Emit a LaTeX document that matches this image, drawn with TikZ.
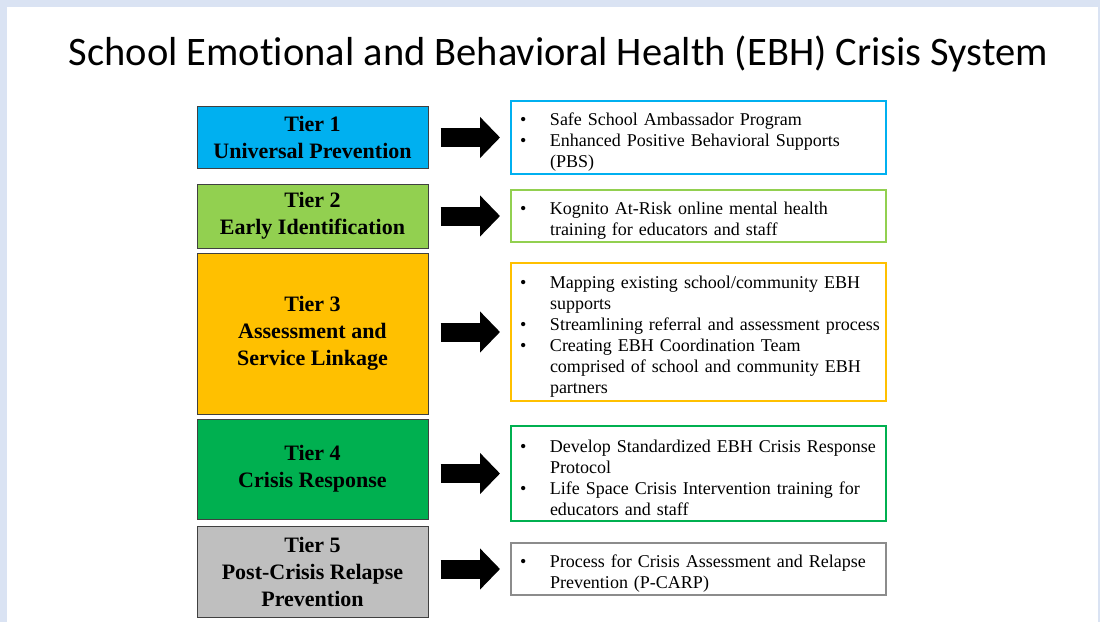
\documentclass[tikz,border=0pt]{standalone}
\usepackage{fontspec}
\setmainfont{Liberation Serif}
\newfontfamily\titlefont[Ligatures=NoCommon]{Carlito}
\usetikzlibrary{arrows.meta}

\definecolor{slideblue}{HTML}{DAE3F3}
\definecolor{tierblue}{HTML}{00B0F0}
\definecolor{tierlime}{HTML}{92D050}
\definecolor{tiergold}{HTML}{FFC000}
\definecolor{tiergreen}{HTML}{00B050}
\definecolor{tiergray}{HTML}{BFBFBF}
\definecolor{framegray}{HTML}{8C8C8C}
\newcommand\tierpoint[1]{\par\raggedright\rightskip=-8pt plus 1fil
  \hangindent=32pt\hangafter=1\noindent\makebox[32pt][l]{\hspace{2pt}\textbullet}#1\par}
\newcommand\wrapline{\hfil\break}

\begin{document}
\begin{tikzpicture}[x=1pt,y=-1pt,
  tier/.style={draw=black!75,line width=1pt,minimum width=231pt,align=center,
    font=\bfseries\fontsize{22}{27}\selectfont},
  plan/.style={draw,line width=2pt,minimum width=375pt,text width=361pt,
    inner xsep=7pt,font=\fontsize{18}{21}\selectfont},
  push/.style={-{Triangle[length=20pt,width=40pt]},line width=19pt,
    shorten <=12pt,shorten >=10pt}]

  \fill[slideblue] (0,0) rectangle (1100,622);
  \fill[white] (7,7) rectangle (1098,622);

  \node[anchor=base,font=\titlefont\fontsize{40.5}{48}\selectfont] (title) at (558.5,65)
    {School Emotional and Behavioral Health (EBH) Crisis System};

  \node[tier,fill=tierblue,minimum height=62pt] (t1) at (312.5,137) {Tier 1\\Universal Prevention};
  \node[tier,fill=tierlime,minimum height=64pt] (t2) at (312.5,216) {Tier 2\\Early Identification};
  \node[tier,fill=tiergold,minimum height=161pt] (t3) at (312.5,333.5) {Tier 3\\Assessment and\\Service Linkage};
  \node[tier,fill=tiergreen,minimum height=100pt] (t4) at (312.5,469) {Tier 4\\Crisis Response};
  \node[tier,fill=tiergray,minimum height=91pt] (t5) at (312.5,571.5) {Tier 5\\Post-Crisis Relapse\\Prevention};

  \node[plan,draw=tierblue,minimum height=73pt] (r1) at (698.5,137.5)
    {\tierpoint{Safe School Ambassador Program}
     \tierpoint{Enhanced Positive Behavioral Supports\wrapline (PBS)}};
  \node[plan,draw=tierlime,minimum height=50pt] (r2) at (698.5,216)
    {\tierpoint{Kognito At-Risk online mental health\wrapline training for educators and staff}};
  \node[plan,draw=tiergold,minimum height=138pt] (r3) at (698.5,332)
    {\tierpoint{Mapping existing school/community EBH\wrapline supports}
     \tierpoint{Streamlining referral and assessment process}
     \tierpoint{Creating EBH Coordination Team\wrapline comprised of school and community EBH\wrapline partners}};
  \node[plan,draw=tiergreen,minimum height=95pt] (r4) at (698.5,473.5)
    {\tierpoint{Develop Standardized EBH Crisis Response\wrapline Protocol}
     \tierpoint{Life Space Crisis Intervention training for\wrapline educators and staff}};
  \node[plan,draw=framegray,minimum height=50pt] (r5) at (698.5,569)
    {\tierpoint{Process for Crisis Assessment and Relapse\wrapline Prevention (P-CARP)}};

  \path[push]
  (t1.east |- r1.west) edge (r1)
  (t2.east |- r2.west) edge (r2)
  (t3.east |- r3.west) edge (r3)
  (t4.east |- r4.west) edge (r4)
  (t5.east |- r5.west) edge (r5);
\end{tikzpicture}
\end{document}
